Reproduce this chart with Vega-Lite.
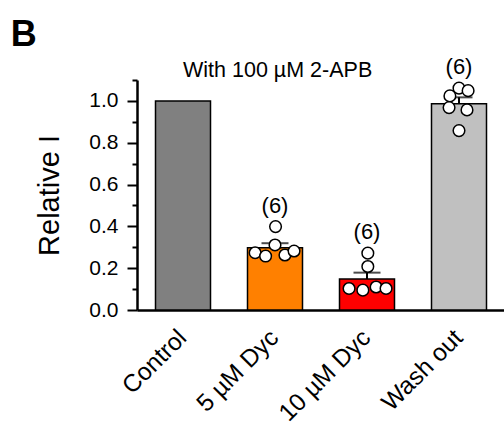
{
  "$schema": "https://vega.github.io/schema/vega-lite/v6.json",
  "width": 368,
  "height": 230,
  "autosize": {"type": "none"},
  "padding": {"left": 137, "top": 80, "right": 0, "bottom": 115},
  "background": "white",
  "config": {
    "view": {"stroke": null},
    "font": "Liberation Sans",
    "axis": {
      "domainColor": "black",
      "domainWidth": 2.5,
      "tickColor": "black",
      "tickWidth": 2,
      "labelColor": "black",
      "titleColor": "black",
      "labelFont": "Liberation Sans",
      "titleFont": "Liberation Sans",
      "labelFontSize": 21,
      "titleFontWeight": "normal",
      "grid": false
    },
    "text": {"font": "Liberation Sans", "color": "black"}
  },
  "title": {
    "text": "B",
    "anchor": "start",
    "font": "Liberation Sans",
    "fontSize": 36,
    "fontWeight": "bold",
    "color": "black",
    "dx": -25,
    "offset": 2
  },
  "datasets": {
    "cells": [
      {"group": "Control", "value": 1.0, "jitter": null},
      {"group": "5 µM Dyc", "value": 0.274, "jitter": -0.72},
      {"group": "5 µM Dyc", "value": 0.258, "jitter": -0.34},
      {"group": "5 µM Dyc", "value": 0.311, "jitter": 0.0},
      {"group": "5 µM Dyc", "value": 0.263, "jitter": 0.36},
      {"group": "5 µM Dyc", "value": 0.282, "jitter": 0.69},
      {"group": "5 µM Dyc", "value": 0.399, "jitter": 0.02},
      {"group": "10 µM Dyc", "value": 0.103, "jitter": -0.65},
      {"group": "10 µM Dyc", "value": 0.095, "jitter": -0.15},
      {"group": "10 µM Dyc", "value": 0.11, "jitter": 0.33},
      {"group": "10 µM Dyc", "value": 0.103, "jitter": 0.69},
      {"group": "10 µM Dyc", "value": 0.208, "jitter": 0.03},
      {"group": "10 µM Dyc", "value": 0.272, "jitter": 0.03},
      {"group": "Wash out", "value": 1.061, "jitter": 0.0},
      {"group": "Wash out", "value": 1.049, "jitter": 0.33},
      {"group": "Wash out", "value": 1.024, "jitter": -0.33},
      {"group": "Wash out", "value": 0.968, "jitter": -0.36},
      {"group": "Wash out", "value": 0.957, "jitter": 0.29},
      {"group": "Wash out", "value": 0.858, "jitter": 0.0}
    ]
  },
  "data": {"name": "cells"},
  "resolve": {"axis": {"y": "independent"}},
  "layer": [
    {
      "transform": [{"filter": "datum.group !== 'Control'"}],
      "mark": {
        "type": "errorbar",
        "extent": "stderr",
        "ticks": {"size": 27, "thickness": 2, "color": "black"},
        "rule": {"strokeWidth": 2, "color": "black"}
      },
      "encoding": {
        "x": {"field": "group", "type": "nominal"},
        "y": {"field": "value", "type": "quantitative", "axis": null}
      }
    },
    {
      "mark": {"type": "bar", "stroke": "black", "strokeWidth": 1.5, "width": 55},
      "encoding": {
        "x": {
          "field": "group",
          "type": "nominal",
          "scale": {
            "domain": ["Control", "5 µM Dyc", "10 µM Dyc", "Wash out"],
            "paddingInner": 0.4,
            "paddingOuter": 0.2
          },
          "axis": {
            "title": null,
            "ticks": false,
            "labelAngle": -45,
            "labelAlign": "right",
            "labelBaseline": "middle",
            "labelFontSize": 24.5,
            "labelPadding": 24
          }
        },
        "y": {
          "aggregate": "mean",
          "field": "value",
          "type": "quantitative",
          "scale": {"domain": [0, 1.1], "nice": false},
          "axis": {
            "orient": "left",
            "values": [0, 0.2, 0.4, 0.6, 0.8, 1.0],
            "format": ".1f",
            "tickSize": 10,
            "labelPadding": 9,
            "title": "Relative I",
            "titleFontSize": 29,
            "titlePadding": 24
          }
        },
        "color": {
          "field": "group",
          "type": "nominal",
          "scale": {
            "domain": ["Control", "5 µM Dyc", "10 µM Dyc", "Wash out"],
            "range": ["#808080", "#ff8000", "#ff0000", "#c0c0c0"]
          },
          "legend": null
        }
      }
    },
    {
      "transform": [{"filter": "datum.group !== 'Control'"}],
      "mark": {
        "type": "point",
        "filled": true,
        "fill": "white",
        "stroke": "black",
        "strokeWidth": 1.5,
        "size": 135,
        "opacity": 1
      },
      "encoding": {
        "x": {"field": "group", "type": "nominal"},
        "xOffset": {
          "field": "jitter",
          "type": "quantitative",
          "scale": {"domain": [-1, 1]}
        },
        "y": {"field": "value", "type": "quantitative", "axis": null}
      }
    },
    {
      "transform": [
        {"filter": "datum.group !== 'Control'"},
        {
          "aggregate": [
            {"op": "max", "field": "value", "as": "top"},
            {"op": "count", "as": "n"}
          ],
          "groupby": ["group"]
        },
        {"calculate": "'(' + datum.n + ')'", "as": "label"}
      ],
      "mark": {"type": "text", "fontSize": 22, "baseline": "middle", "dy": -21},
      "encoding": {
        "x": {"field": "group", "type": "nominal"},
        "y": {"field": "top", "type": "quantitative", "axis": null},
        "text": {"field": "label"}
      }
    },
    {
      "data": {"values": [{"caption": "With 100 µM 2-APB"}]},
      "mark": {"type": "text", "fontSize": 21.5, "align": "left", "baseline": "alphabetic", "dy": -3},
      "encoding": {
        "x": {"datum": "Control"},
        "y": {
          "datum": 1.1,
          "type": "quantitative",
          "axis": {
            "orient": "left",
            "values": [0.1, 0.3, 0.5, 0.7, 0.9, 1.1],
            "labels": false,
            "domain": false,
            "tickSize": 5,
            "title": null
          }
        },
        "text": {"field": "caption"}
      }
    }
  ]
}
